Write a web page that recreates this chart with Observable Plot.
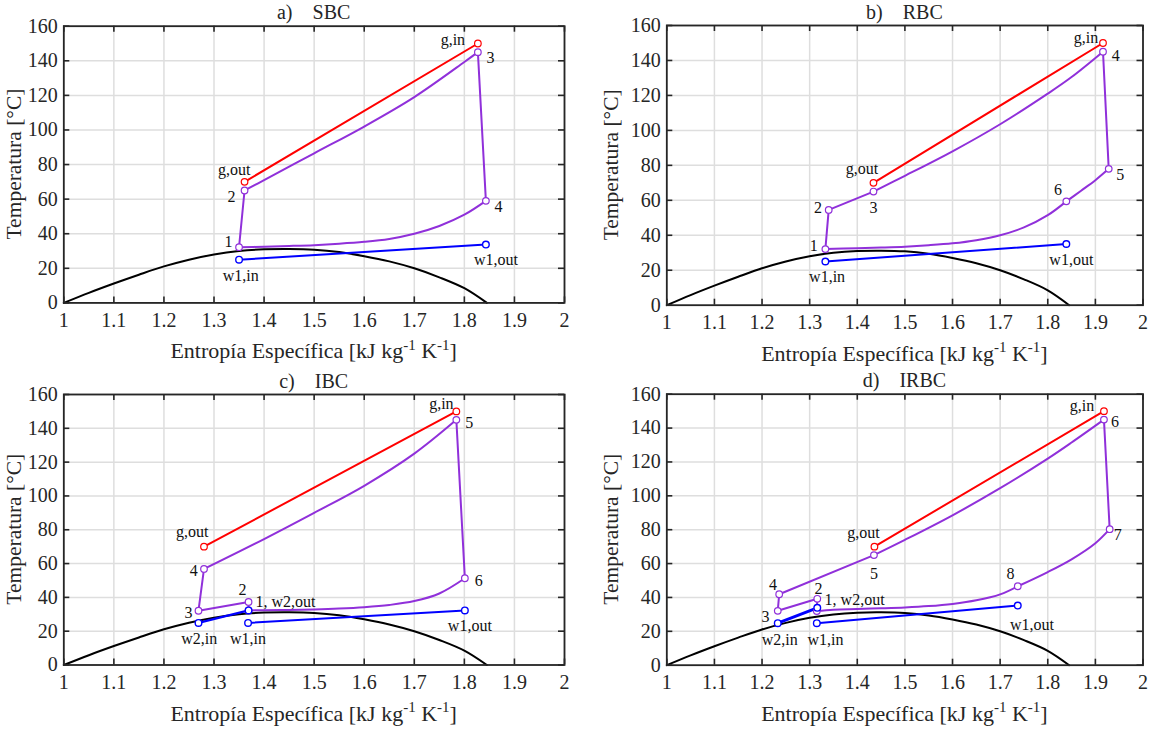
<!DOCTYPE html>
<html><head><meta charset="utf-8">
<script src="https://cdn.jsdelivr.net/npm/d3@7"></script>
<script src="https://cdn.jsdelivr.net/npm/@observablehq/plot@0.6"></script>
<style>
body{margin:0;background:#fff;}
#root{position:relative;width:1150px;height:729px;overflow:hidden;font-family:"Liberation Serif","Times New Roman",serif;}
#root svg{position:absolute;}
#root svg text{font-family:"Liberation Serif","Times New Roman",serif !important;}
</style></head>
<body><div id="root"></div>
<script>
// ---------- shared data ----------
const xTicks = [1, 1.1, 1.2, 1.3, 1.4, 1.5, 1.6, 1.7, 1.8, 1.9, 2];
const yTicks = [0, 20, 40, 60, 80, 100, 120, 140, 160];
const domeS = [1.0, 1.05, 1.1, 1.15, 1.2, 1.25, 1.3, 1.35, 1.4, 1.45, 1.5, 1.55, 1.6, 1.65, 1.7, 1.75, 1.8, 1.845];
const domeT = [0, 5.8, 11.2, 16.3, 21.1, 25.0, 28.0, 30.0, 31.0, 31.2, 30.8, 29.4, 27.0, 24.0, 20.0, 14.8, 8.5, 0];

// ---------- a) SBC ----------
const sbcGas = [[1.361, 70], [1.827, 150]];
const sbcWater1 = [[1.350, 25], [1.843, 33.7]];
const sbcCycle = [
  [[1.350, 32.2], [1.361, 65]],
  [[1.361, 65], [1.40, 71], [1.50, 86.5], [1.60, 102], [1.70, 119], [1.80, 139.3], [1.827, 145]],
  [[1.827, 145], [1.843, 59]],
  [[1.843, 59], [1.80, 51], [1.75, 44.5], [1.70, 40], [1.65, 37], [1.60, 35.3], [1.55, 34.2], [1.50, 33.4], [1.45, 32.9], [1.40, 32.5], [1.350, 32.2]]
];
const sbcLabels = [["g,in", 1.827, 150], ["3", 1.827, 145], ["g,out", 1.361, 70], ["2", 1.361, 65],
  ["4", 1.843, 59], ["1", 1.350, 32.2], ["w1,in", 1.350, 25], ["w1,out", 1.843, 33.7]];

// ---------- b) RBC ----------
const rbcGas = [[1.434, 70], [1.916, 150]];
const rbcWater1 = [[1.333, 25], [1.839, 35]];
const rbcCycle = [
  [[1.333, 32.1], [1.340, 54.5]],
  [[1.340, 54.5], [1.434, 65]],
  [[1.434, 65], [1.50, 74], [1.60, 88], [1.70, 103.5], [1.80, 121], [1.85, 130.5], [1.916, 145]],
  [[1.916, 145], [1.928, 78]],
  [[1.928, 78], [1.90, 71.5], [1.87, 65.5], [1.839, 59.4]],
  [[1.839, 59.4], [1.80, 51.5], [1.75, 44.5], [1.70, 40], [1.65, 37.2], [1.60, 35.4], [1.55, 34.3], [1.50, 33.5], [1.45, 33], [1.40, 32.6], [1.333, 32.1]]
];
const rbcLabels = [["g,in", 1.916, 150], ["4", 1.916, 145], ["5", 1.928, 78], ["6", 1.839, 59.4],
  ["g,out", 1.434, 70], ["3", 1.434, 65], ["2", 1.340, 54.5], ["1", 1.333, 32.1],
  ["w1,in", 1.333, 25], ["w1,out", 1.839, 35]];

// ---------- c) IBC ----------
const ibcGas = [[1.280, 70], [1.784, 150]];
const ibcWater1 = [[1.368, 24.9], [1.801, 32.3]];
const ibcWater2 = [[1.269, 24.9], [1.369, 32.3]];
const ibcCycle = [
  [[1.369, 32.3], [1.369, 37.3]],
  [[1.369, 37.3], [1.269, 32.1]],
  [[1.269, 32.1], [1.280, 56.8]],
  [[1.280, 56.8], [1.40, 74.5], [1.50, 90], [1.60, 106], [1.70, 125], [1.784, 145]],
  [[1.784, 145], [1.801, 51.3]],
  [[1.801, 51.3], [1.75, 42.3], [1.70, 37.8], [1.65, 35.5], [1.60, 34.2], [1.55, 33.4], [1.50, 32.9], [1.45, 32.6], [1.40, 32.4], [1.369, 32.3]]
];
const ibcLabels = [["g,in", 1.784, 150], ["5", 1.784, 145], ["g,out", 1.280, 70], ["4", 1.280, 56.8],
  ["3", 1.269, 32.1], ["2", 1.369, 37.3], ["1, w2,out", 1.369, 37.3], ["6", 1.801, 51.3],
  ["w2,in", 1.269, 24.9], ["w1,in", 1.368, 24.9], ["w1,out", 1.801, 32.3]];

// ---------- d) IRBC ----------
const irbcGas = [[1.436, 70], [1.918, 150]];
const irbcWater1 = [[1.315, 24.8], [1.737, 35.2]];
const irbcWater2 = [[1.233, 24.8], [1.316, 33.9]];
const irbcCycle = [
  [[1.315, 32.0], [1.316, 39.2]],
  [[1.316, 39.2], [1.233, 32.1]],
  [[1.233, 32.1], [1.236, 41.9]],
  [[1.236, 41.9], [1.435, 65]],
  [[1.435, 65], [1.50, 74], [1.60, 88.5], [1.70, 104.5], [1.80, 122], [1.85, 131.5], [1.918, 145]],
  [[1.918, 145], [1.930, 80.3]],
  [[1.930, 80.3], [1.90, 72], [1.85, 62.5], [1.80, 55], [1.737, 46.6]],
  [[1.737, 46.6], [1.70, 41.8], [1.65, 38.3], [1.60, 36.2], [1.55, 34.9], [1.50, 34.1], [1.45, 33.6], [1.40, 33.2], [1.35, 32.8], [1.315, 32.0]]
];
const irbcLabels = [["g,in", 1.918, 150], ["6", 1.918, 145], ["7", 1.930, 80.3], ["8", 1.737, 46.6],
  ["g,out", 1.436, 70], ["5", 1.435, 65], ["4", 1.236, 41.9], ["3", 1.233, 32.1], ["2", 1.316, 39.2],
  ["1, w2,out", 1.316, 39.2], ["w2,in", 1.233, 24.8], ["w1,in", 1.315, 24.8], ["w1,out", 1.737, 35.2]];

// ---------- layout / style (not data) ----------
const RED = "#ff0000", PURPLE = "#9030da", BLUE = "#0000ff", INK = "#262626";
const panels = [
  {letter: "a)", name: "SBC", rect: [63.3, 564, 25.7, 302.4], box: [0, 0, 575, 364], gas: sbcGas, water: [sbcWater1], wWidth: [2], cycle: sbcCycle, labels: sbcLabels,
   off: {"g,in": [-25, -4], "3": [12.5, 5.3], "g,out": [-10.3, -11.7], "2": [-13, 6.7], "4": [12.7, 6], "1": [-10.6, -5.6], "w1,in": [1.7, 16.7], "w1,out": [10, 15.3]}},
  {letter: "b)", name: "RBC", rect: [666.3, 1142.5, 25, 304.7], box: [575, 0, 575, 364], gas: rbcGas, water: [rbcWater1], wWidth: [2], cycle: rbcCycle, labels: rbcLabels,
   off: {"g,in": [-17, -5.3], "4": [12.7, 3.7], "5": [11.6, 5.7], "6": [-8.4, -11], "g,out": [-11.6, -13.7], "3": [0, 16.3], "2": [-10.6, -2.3], "1": [-11.7, -3.7], "w1,in": [1.7, 15.3], "w1,out": [5, 16.3]}},
  {letter: "c)", name: "IBC", rect: [63.3, 564, 394, 664.5], box: [0, 364, 575, 365], gas: ibcGas, water: [ibcWater1, ibcWater2], wWidth: [2, 2.2], cycle: ibcCycle, labels: ibcLabels,
   off: {"g,in": [-15, -7.3], "5": [13, 2.7], "g,out": [-11.8, -14.3], "4": [-10.3, 1.7], "3": [-10, 2], "2": [-6, -12], "1, w2,out": [7, 0, "start"], "6": [14, 3], "w2,in": [0.7, 16.3], "w1,in": [0, 16.3], "w1,out": [5, 15]}},
  {letter: "d)", name: "IRBC", rect: [666.3, 1142.5, 393.7, 664.7], box: [575, 364, 575, 365], gas: irbcGas, water: [irbcWater1, irbcWater2], wWidth: [2, 3], cycle: irbcCycle, labels: irbcLabels,
   off: {"g,in": [-22, -5.7], "6": [11, 2.7], "7": [8, 5.3], "8": [-7.3, -12.3], "g,out": [-11, -13.3], "5": [0, 18.7], "4": [-6.3, -9.3], "3": [-12.3, 5.7], "2": [1.3, -10], "1, w2,out": [7.3, 1, "start"], "w2,in": [2, 16.7], "w1,in": [8.7, 16.7], "w1,out": [14.3, 19]}}
];

const root = document.getElementById("root");
const dome = domeS.map((s, i) => [s, domeT[i]]);

function ends(segs) {
  const pts = [];
  for (const seg of segs) {
    for (const p of [seg[0], seg[seg.length - 1]]) {
      if (!pts.some(q => q[0] === p[0] && q[1] === p[1])) pts.push(p);
    }
  }
  return pts;
}

for (const p of panels) {
  const [x0, x1, y0, y1] = p.rect;
  const [L, T, W, H] = p.box;
  const pw = x1 - x0, ph = y1 - y0;
  const marks = [
    Plot.gridX(xTicks, {stroke: "#dedede", strokeOpacity: 1, strokeWidth: 1.5}),
    Plot.gridY(yTicks, {stroke: "#dedede", strokeOpacity: 1, strokeWidth: 1.5}),
    Plot.line(dome, {stroke: "black", strokeWidth: 2, curve: "catmull-rom"}),
    Plot.line(p.gas, {stroke: RED, strokeWidth: 2})
  ];
  for (const seg of p.cycle) marks.push(Plot.line(seg, {stroke: PURPLE, strokeWidth: 2, curve: "catmull-rom"}));
  p.water.forEach((w, i) => marks.push(Plot.line(w, {stroke: BLUE, strokeWidth: p.wWidth[i]})));
  marks.push(Plot.dot(ends([p.gas]), {r: 3.3, stroke: RED, fill: "white", strokeWidth: 1.2}));
  marks.push(Plot.dot(ends(p.cycle), {r: 3.3, stroke: PURPLE, fill: "white", strokeWidth: 1.2}));
  marks.push(Plot.dot(ends(p.water), {r: 3.3, stroke: BLUE, fill: "white", strokeWidth: 1.4}));
  for (const lab of p.labels) {
    const o = p.off[lab[0]] || [0, 0];
    marks.push(Plot.text([lab], {x: d => d[1], y: d => d[2], text: d => d[0], dx: o[0], dy: o[1],
      textAnchor: o[2] || "middle", lineAnchor: "middle", fontSize: 16, fill: "#111"}));
  }
  marks.push(
    Plot.tickX(xTicks, {x: d => d, insetTop: ph - 6, stroke: INK, strokeWidth: 1.6}),
    Plot.tickX(xTicks, {x: d => d, insetBottom: ph - 6, stroke: INK, strokeWidth: 1.6}),
    Plot.tickY(yTicks, {y: d => d, insetRight: pw - 6, stroke: INK, strokeWidth: 1.6}),
    Plot.tickY(yTicks, {y: d => d, insetLeft: pw - 6, stroke: INK, strokeWidth: 1.6}),
    Plot.frame({stroke: INK, strokeWidth: 1.8}),
    Plot.axisX(xTicks, {tickSize: 0, tickPadding: 10, fontSize: 20, tickFormat: d => String(d), label: null, fill: INK}),
    Plot.axisY(yTicks, {tickSize: 0, tickPadding: 6, fontSize: 20, tickFormat: d => String(d), label: null, fill: INK})
  );
  const svg = Plot.plot({
    width: W, height: H,
    marginLeft: x0 - L, marginRight: L + W - x1, marginTop: y0 - T, marginBottom: T + H - y1,
    x: {domain: [1, 2]}, y: {domain: [0, 160]},
    style: {fontFamily: "'Liberation Serif', 'Times New Roman', serif", background: "transparent", overflow: "visible", color: INK},
    marks
  });
  svg.style.left = L + "px";
  svg.style.top = T + "px";
  root.appendChild(svg);
}

// ---------- titles and axis titles ----------
const ov = d3.select(root).append("svg").attr("width", 1150).attr("height", 729)
  .style("left", "0px").style("top", "0px").style("pointer-events", "none")
  .attr("fill", INK);

for (const p of panels) {
  const [x0, x1, y0, y1] = p.rect;
  const cx = (x0 + x1) / 2, cy = (y0 + y1) / 2;
  const t = ov.append("text").attr("x", cx).attr("y", y0 - 6.5).attr("text-anchor", "middle").attr("font-size", 20);
  t.append("tspan").text(p.letter);
  t.append("tspan").attr("dx", 20).text(p.name);

  const xl = ov.append("text").attr("x", cx).attr("y", y1 + 56).attr("text-anchor", "middle").attr("font-size", 22);
  xl.append("tspan").text("Entropía Específica [kJ kg");
  xl.append("tspan").attr("dy", -8.5).attr("font-size", 15).text("-1");
  xl.append("tspan").attr("dy", 8.5).text(" K");
  xl.append("tspan").attr("dy", -8.5).attr("font-size", 15).text("-1");
  xl.append("tspan").attr("dy", 8.5).text("]");

  const bx = x0 - (p.letter === "a)" || p.letter === "c)" ? 42.6 : 48.5);
  ov.append("text").attr("transform", `translate(${bx},${cy}) rotate(-90)`).attr("text-anchor", "middle")
    .attr("font-size", 21.5).text("Temperatura [°C]");
}
</script></body></html>
